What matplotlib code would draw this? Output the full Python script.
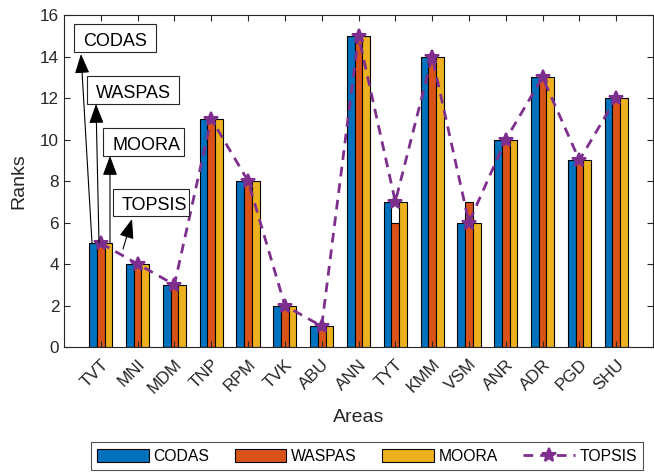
import matplotlib
matplotlib.use("Agg")
import matplotlib.pyplot as plt
import numpy as np

plt.rcParams['font.family'] = ['Liberation Sans', 'DejaVu Sans']

areas = ["TVT", "MNI", "MDM", "TNP", "RPM", "TVK", "ABU", "ANN", "TYT", "KMM", "VSM", "ANR", "ADR", "PGD", "SHU"]
codas = [5, 4, 3, 11, 8, 2, 1, 15, 7, 14, 6, 10, 13, 9, 12]
waspas = [5, 4, 3, 11, 8, 2, 1, 15, 6, 14, 7, 10, 13, 9, 12]
moora = [5, 4, 3, 11, 8, 2, 1, 15, 7, 14, 6, 10, 13, 9, 12]
topsis = [5, 4, 3, 11, 8, 2, 1, 15, 7, 14, 6, 10, 13, 9, 12]

W, H = 654, 473
fig = plt.figure(figsize=(W/100, H/100), dpi=100)
ax = fig.add_axes([64/W, 1-347/H, (653-64)/W, (347-15)/H])

x = np.arange(1, len(areas)+1)
bw = 0.21
h1 = ax.bar(x-bw, codas, bw, color='#0072BD', edgecolor='black', linewidth=0.8, label='CODAS')
h2 = ax.bar(x, waspas, bw, color='#D95319', edgecolor='black', linewidth=0.8, label='WASPAS')
h3 = ax.bar(x+bw, moora, bw, color='#EDB120', edgecolor='black', linewidth=0.8, label='MOORA')
h4, = ax.plot(x, topsis, '--', color='#7E2F8E', linewidth=2, marker='*', markersize=10,
              markeredgewidth=1.5, dashes=(3.5, 2.5), label='TOPSIS')

ax.set_xlim(0, 16)
ax.set_ylim(0, 16)
ax.set_yticks(range(0, 17, 2))
ax.set_xticks(x)
ax.set_xticklabels(areas, rotation=45, ha='right', rotation_mode='anchor')
ax.tick_params(direction='in', top=True, right=True, labelsize=12.3, length=4, colors='#262626')
ax.tick_params(axis='x', pad=7)
for s in ax.spines.values():
    s.set_color('#262626')
    s.set_linewidth(0.8)
ax.set_ylabel('Ranks', fontsize=14, color='#262626', labelpad=9)
ax.set_xlabel('Areas', fontsize=14, color='#262626', labelpad=9)

leg = fig.legend([h1, h2, h3, h4], ['CODAS', 'WASPAS', 'MOORA', 'TOPSIS'],
                 loc='lower center', bbox_to_anchor=(367/W, 3/H), ncol=4, fontsize=11.3,
                 frameon=True, fancybox=False, edgecolor='#262626', handlelength=3.3,
                 handleheight=0.85, columnspacing=1.6, handletextpad=0.3, borderpad=0.4,
                 borderaxespad=0)
leg.get_frame().set_linewidth(0.8)

def fp(px, py):
    return (px/W, 1-py/H)

# annotation boxes: (label, box left, box top, box right, box bottom, tip, tail)
notes = [
    ("CODAS", 74, 24, 156, 52, (81, 54), (92, 243)),
    ("WASPAS", 87, 76, 179, 104, (96, 104), (99, 243)),
    ("MOORA", 103, 128, 184, 156, (110, 156), (110, 243)),
    ("TOPSIS", 113, 189, 189, 216, (132, 219), (123, 249)),
]
for lab, l, t, r, b, tip, tail in notes:
    rect = plt.Rectangle(fp(l, b), (r-l)/W, (b-t)/H, transform=fig.transFigure,
                         facecolor='white', edgecolor='#262626', linewidth=0.8, zorder=5)
    fig.add_artist(rect)
    fig.text((l+9)/W, 1-((t+b)/2+3)/H, lab, fontsize=13, va='center', ha='left', zorder=6)
    ax.annotate('', xy=fp(*tip), xycoords='figure fraction', xytext=fp(*tail),
                textcoords='figure fraction',
                arrowprops=dict(arrowstyle='-|>,head_length=1.2,head_width=0.45', color='black',
                                lw=0.8, shrinkA=0, shrinkB=0), zorder=7)

fig.savefig('out.png', dpi=100)
